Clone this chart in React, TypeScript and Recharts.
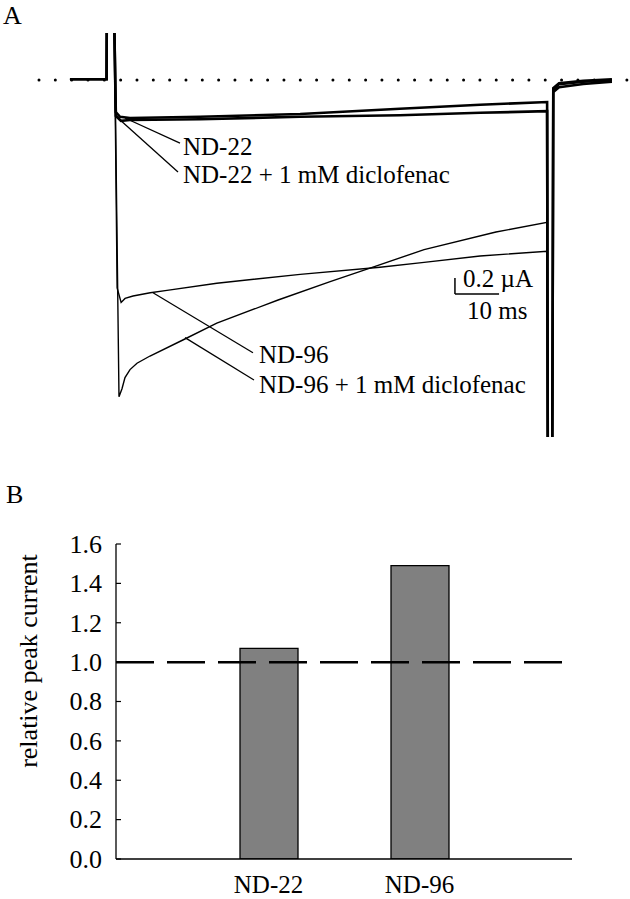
import React from 'react';
import { LineChart, Line, XAxis, YAxis, ReferenceLine, BarChart, Bar } from 'recharts';

const SERIF = '"Liberation Serif", "Times New Roman", Times, serif';

// ---------- Panel A: current traces (time in ms from pulse onset, current in µA) ----------
const nd22Trace = [
  { t: -8.4, i: 0.01 }, { t: -0.1, i: 0.01 }, { t: 0, i: 1.5 }, { t: 1.4, i: 1.5 },
  { t: 2.0, i: -0.4 }, { t: 2.95, i: -0.46 }, { t: 5.2, i: -0.475 }, { t: 21.1, i: -0.46 },
  { t: 43.8, i: -0.425 }, { t: 66.4, i: -0.36 }, { t: 84.6, i: -0.31 }, { t: 99.8, i: -0.275 },
  { t: 100, i: -6 }, { t: 100.9, i: -6 }, { t: 101.2, i: -0.1 }, { t: 102.5, i: -0.04 },
  { t: 108, i: -0.01 }, { t: 114.5, i: 0.01 },
];
const nd22DiclofenacTrace = [
  { t: -8.4, i: 0.01 }, { t: -0.1, i: 0.01 }, { t: 0, i: 1.5 }, { t: 1.4, i: 1.5 },
  { t: 2.0, i: -0.45 }, { t: 3.17, i: -0.51 }, { t: 5.2, i: -0.5 }, { t: 21.1, i: -0.49 },
  { t: 43.8, i: -0.46 }, { t: 66.4, i: -0.44 }, { t: 84.6, i: -0.41 }, { t: 99.8, i: -0.39 },
  { t: 100, i: -6 }, { t: 100.9, i: -6 }, { t: 101.2, i: -0.15 }, { t: 102.5, i: -0.09 },
  { t: 108, i: -0.05 }, { t: 114.5, i: -0.02 },
];
const nd96Trace = [
  { t: -8.4, i: 0.01 }, { t: -0.1, i: 0.01 }, { t: 0, i: 1.5 }, { t: 1.5, i: 1.5 },
  { t: 2.3, i: -2.6 }, { t: 3.2, i: -2.78 }, { t: 4.1, i: -2.73 }, { t: 5.9, i: -2.7 },
  { t: 9.8, i: -2.66 }, { t: 13.6, i: -2.63 }, { t: 24.9, i: -2.54 }, { t: 43.8, i: -2.43 },
  { t: 61.9, i: -2.34 }, { t: 71.9, i: -2.28 }, { t: 84.6, i: -2.2 }, { t: 99.8, i: -2.14 },
  { t: 100, i: -6 }, { t: 100.9, i: -6 }, { t: 101.2, i: -0.12 }, { t: 102.5, i: -0.05 },
  { t: 108, i: -0.02 }, { t: 114.5, i: 0.0 },
];
const nd96DiclofenacTrace = [
  { t: -8.4, i: 0.01 }, { t: -0.1, i: 0.01 }, { t: 0, i: 1.5 }, { t: 1.5, i: 1.5 },
  { t: 2.72, i: -3.96 }, { t: 3.4, i: -3.86 }, { t: 4.08, i: -3.72 }, { t: 5.22, i: -3.62 },
  { t: 6.8, i: -3.54 }, { t: 9.75, i: -3.45 }, { t: 17.2, i: -3.25 }, { t: 24.9, i: -3.04 },
  { t: 38.8, i: -2.75 }, { t: 50.6, i: -2.52 }, { t: 60.3, i: -2.34 }, { t: 71.9, i: -2.12 },
  { t: 88.2, i: -1.9 }, { t: 99.8, i: -1.78 },
  { t: 100, i: -6 }, { t: 100.9, i: -6 }, { t: 101.2, i: -0.13 }, { t: 102.5, i: -0.06 },
  { t: 108, i: -0.03 }, { t: 114.5, i: -0.01 },
];

// annotation anchors (data units)
const leaderNd22 = [{ x: 4.08, y: -0.475 }, { x: 16.55, y: -0.79 }];
const leaderNd22Dic = [{ x: 3.17, y: -0.51 }, { x: 16.1, y: -1.15 }];
const leaderNd96 = [{ x: 10.43, y: -2.66 }, { x: 33.1, y: -3.41 }];
const leaderNd96Dic = [{ x: 17.69, y: -3.22 }, { x: 33.33, y: -3.75 }];
const scaleBarOrigin = { t: 78.9, i: -2.675 };
const scaleBarTime = 10; // ms
const scaleBarCurrent = 0.2; // µA
const baselineRange = [-15.42, 118.2];

// ---------- Panel B: relative peak current ----------
const constructs = ['ND-22', 'ND-96'];
const relativePeak = [1.07, 1.49];
const yTicksB = [0, 0.2, 0.4, 0.6, 0.8, 1.0, 1.2, 1.4, 1.6];
const barData = constructs.map((name, k) => ({ name, value: relativePeak[k] }));

const FS = 25;

const YTick = (props: any) => {
  const { x, y, payload } = props;
  return (
    <g>
      <line x1={x + 14} x2={x + 19} y1={y} y2={y} stroke="#000" strokeWidth={1.2} />
      <text x={x} y={y} dy="0.34em" textAnchor="end" fontSize={26} fontFamily={SERIF} fill="#000">
        {Number(payload.value).toFixed(1)}
      </text>
    </g>
  );
};

const XTick = (props: any) => {
  const { x, y, payload } = props;
  return (
    <text x={x} y={y} dy={33.5} textAnchor="middle" fontSize={FS} fontFamily={SERIF} fill="#000">
      {payload.value}
    </text>
  );
};

const txt = { fontFamily: SERIF, fontSize: FS, fill: '#000' } as const;

export default function App() {
  return (
    <div style={{ position: 'absolute', left: 0, top: 0, width: 630, height: 899, background: '#fff' }}>
      <div style={{ position: 'absolute', left: 0, top: 0 }}>
        <LineChart width={630} height={437} margin={{ top: 33, right: 0, bottom: 0, left: 0 }}>
          <XAxis type="number" dataKey="t" domain={[-107 / 4.41, 523 / 4.41]} allowDataOverflow hide />
          <YAxis type="number" dataKey="i" domain={[-4.4625, 0.5875]} allowDataOverflow hide />
          <ReferenceLine
            segment={[{ x: baselineRange[0], y: 0 }, { x: baselineRange[1], y: 0 }]}
            stroke="#000" strokeWidth={3} strokeDasharray="0 16.33" strokeLinecap="round"
          />
          <Line data={nd22Trace} dataKey="i" type="linear" dot={false} stroke="#000" strokeWidth={2.6} isAnimationActive={false} />
          <Line data={nd22DiclofenacTrace} dataKey="i" type="linear" dot={false} stroke="#000" strokeWidth={2.6} isAnimationActive={false} />
          <Line data={nd96Trace} dataKey="i" type="linear" dot={false} stroke="#000" strokeWidth={1.4} isAnimationActive={false} />
          <Line data={nd96DiclofenacTrace} dataKey="i" type="linear" dot={false} stroke="#000" strokeWidth={1.4} isAnimationActive={false} />
          <ReferenceLine segment={leaderNd22} stroke="#000" strokeWidth={1.3} />
          <ReferenceLine segment={leaderNd22Dic} stroke="#000" strokeWidth={1.3} />
          <ReferenceLine segment={leaderNd96} stroke="#000" strokeWidth={1.3} />
          <ReferenceLine segment={leaderNd96Dic} stroke="#000" strokeWidth={1.3} />
          <ReferenceLine
            segment={[{ x: scaleBarOrigin.t, y: scaleBarOrigin.i + scaleBarCurrent }, { x: scaleBarOrigin.t, y: scaleBarOrigin.i }]}
            stroke="#000" strokeWidth={1.5}
          />
          <ReferenceLine
            segment={[{ x: scaleBarOrigin.t, y: scaleBarOrigin.i }, { x: scaleBarOrigin.t + scaleBarTime, y: scaleBarOrigin.i }]}
            stroke="#000" strokeWidth={1.5}
          />
        </LineChart>
      </div>
      <div style={{ position: 'absolute', left: 0, top: 470 }}>
        <BarChart width={630} height={429} data={barData} margin={{ top: 74, right: 58, bottom: 0, left: 0 }}>
          <XAxis
            dataKey="name" type="category" height={40} padding={{ left: 77, right: 77 }}
            axisLine={{ stroke: '#000', strokeWidth: 1.3 }} tickLine={false} tickSize={0} tickMargin={0}
            tick={<XTick />} interval={0}
          />
          <YAxis
            type="number" width={116} domain={[0, 1.6]} ticks={yTicksB} allowDataOverflow interval={0}
            axisLine={{ stroke: '#000', strokeWidth: 1.3 }} tickLine={false} tickSize={0} tickMargin={14}
            tick={<YTick />}
          />
          <Bar dataKey="value" fill="#808080" stroke="#000" strokeWidth={1.3} barSize={58} isAnimationActive={false} />
          <ReferenceLine y={1} stroke="#000" strokeWidth={2.5} strokeDasharray="38 13" />
        </BarChart>
      </div>
      <svg width={630} height={899} style={{ position: 'absolute', left: 0, top: 0, pointerEvents: 'none' }}>
        <text x={3} y={24} {...txt} fontSize={26}>A</text>
        <text x={6} y={503} {...txt} fontSize={26}>B</text>
        <text x={183} y={155} {...txt}>ND-22</text>
        <text x={183} y={183} {...txt}>ND-22 + 1 mM diclofenac</text>
        <text x={259} y={363} {...txt}>ND-96</text>
        <text x={259} y={393} {...txt}>ND-96 + 1 mM diclofenac</text>
        <text x={463} y={287} {...txt}>0.2 µA</text>
        <text x={467} y={319} {...txt}>10 ms</text>
        <text transform="translate(37,661) rotate(-90)" textAnchor="middle" {...txt} fontSize={26}>relative peak current</text>
      </svg>
    </div>
  );
}
